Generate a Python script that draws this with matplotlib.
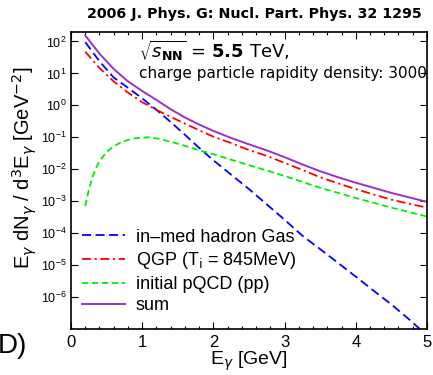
import numpy as np
import matplotlib
matplotlib.use("Agg")
import matplotlib.pyplot as plt
from matplotlib.ticker import LogLocator, MultipleLocator, NullFormatter

# values (log10 of E dN/d3E)
e_hadron = [0.2, 0.4, 0.6, 0.8, 1.0, 1.2, 1.4, 1.6, 1.8, 2.0, 2.25, 2.5, 2.75,
            3.0, 3.25, 3.5, 3.75, 4.0, 4.25, 4.5, 4.75, 4.9]
log_hadron = [1.98, 1.38, 0.87, 0.55, 0.22, -0.14, -0.52, -0.92, -1.33, -1.72,
              -2.17, -2.62, -3.10, -3.58, -4.08, -4.50, -4.93, -5.36, -5.80,
              -6.23, -6.70, -7.0]

e_qgp = [0.2, 0.4, 0.6, 0.8, 1.0, 1.2, 1.4, 1.6, 1.8, 2.0, 2.25, 2.5, 2.75,
         3.0, 3.25, 3.5, 3.75, 4.0, 4.25, 4.5, 4.75, 5.0]
log_qgp = [1.68, 1.17, 0.75, 0.40, 0.10, -0.14, -0.36, -0.57, -0.78, -0.98,
           -1.18, -1.40, -1.58, -1.80, -2.02, -2.25, -2.44, -2.62, -2.79,
           -2.95, -3.08, -3.20]

e_pqcd = [0.2, 0.25, 0.3, 0.35, 0.4, 0.5, 0.6, 0.7, 0.8, 0.9, 1.0, 1.1, 1.25,
          1.5, 1.75, 2.0, 2.5, 3.0, 3.5, 4.0, 4.5, 5.0]
log_pqcd = [-3.15, -2.65, -2.25, -1.97, -1.75, -1.46, -1.28, -1.16, -1.08,
            -1.03, -1.01, -1.00, -1.05, -1.20, -1.37, -1.53, -1.87, -2.21,
            -2.58, -2.90, -3.20, -3.48]

e_sum = [0.2, 0.4, 0.6, 0.8, 1.0, 1.2, 1.4, 1.6, 1.8, 2.0, 2.25, 2.5, 2.75,
         3.0, 3.25, 3.5, 3.75, 4.0, 4.25, 4.5, 4.75, 5.0]
log_sum = [2.19, 1.62, 1.14, 0.75, 0.45, 0.17, -0.12, -0.38, -0.60, -0.80,
           -1.02, -1.22, -1.41, -1.62, -1.85, -2.06, -2.25, -2.42, -2.58,
           -2.74, -2.88, -3.02]

labels = ["in\u2013med hadron Gas", "QGP (T$_{\\rm i}$ = 845MeV)",
          "initial pQCD (pp)", "sum"]

fig = plt.figure(figsize=(4.33, 3.75), dpi=100)
ax = fig.add_axes([0.164, 0.1227, 0.822, 0.7923])

ax.plot(e_hadron, 10 ** np.array(log_hadron), color="#0000ff", lw=1.3,
        dashes=(5, 2.5), label=labels[0])
ax.plot(e_qgp, 10 ** np.array(log_qgp), color="#ff0000", lw=1.3,
        dashes=(5, 2, 1.2, 2), label=labels[1])
ax.plot(e_pqcd, 10 ** np.array(log_pqcd), color="#00ee00", lw=1.3,
        dashes=(3.5, 2), label=labels[2])
ax.plot(e_sum, 10 ** np.array(log_sum), color="#9932cc", lw=1.4,
        label=labels[3])

ax.set_yscale("log")
ax.set_xlim(0, 5)
ax.set_ylim(1e-7, 200)
ax.set_yticks([10.0 ** k for k in range(-6, 3)])
ax.yaxis.set_minor_locator(LogLocator(base=10, subs=np.arange(2, 10)))
ax.yaxis.set_minor_formatter(NullFormatter())
ax.xaxis.set_major_locator(MultipleLocator(1))
ax.xaxis.set_minor_locator(MultipleLocator(0.2))
ax.tick_params(which="both", direction="in", top=True, right=True, width=0.8)
ax.tick_params(which="major", length=5)
ax.tick_params(which="minor", length=2.5)
ax.tick_params(axis="x", labelsize=12, pad=4)
ax.tick_params(axis="y", labelsize=9, pad=3)
for s in ax.spines.values():
    s.set_linewidth(1.2)
for t in ax.get_xticklabels() + ax.get_yticklabels():
    t.set_fontfamily("Liberation Sans")

ax.set_xlabel("E$_\\gamma$ [GeV]", fontsize=14, family="Liberation Sans",
              labelpad=0)
fig.text(0.058, 0.552,
         "E$_\\gamma$ dN$_\\gamma$ / d$^3$E$_\\gamma$ [GeV$^{-2}$]",
         rotation=90, ha="center", va="center", fontsize=14.5,
         family="Liberation Sans")

leg = ax.legend(loc="lower left", bbox_to_anchor=(0.01, 0.025), frameon=False,
                prop={"family": "Liberation Sans", "size": 13},
                handlelength=2.4, handletextpad=0.6, labelspacing=0.25,
                borderaxespad=0)

fig.text(0.2, 0.963, "2006 J. Phys. G: Nucl. Part. Phys. 32 1295",
         fontsize=10.3, fontweight="bold", family="DejaVu Sans", va="center")
ax.text(0.19, 0.975, "$\\sqrt{s_{\\mathbf{NN}}}$ = $\\mathbf{5.5}$ TeV,",
        transform=ax.transAxes, fontsize=13, va="top", family="DejaVu Sans")
ax.text(0.19, 0.885, "charge particle rapidity density: 3000",
        transform=ax.transAxes, fontsize=11, va="top", family="DejaVu Sans")
fig.text(0.062, 0.077, "D)", fontsize=20, ha="right", va="center",
         family="Liberation Sans")

fig.savefig("out.png", dpi=100)
